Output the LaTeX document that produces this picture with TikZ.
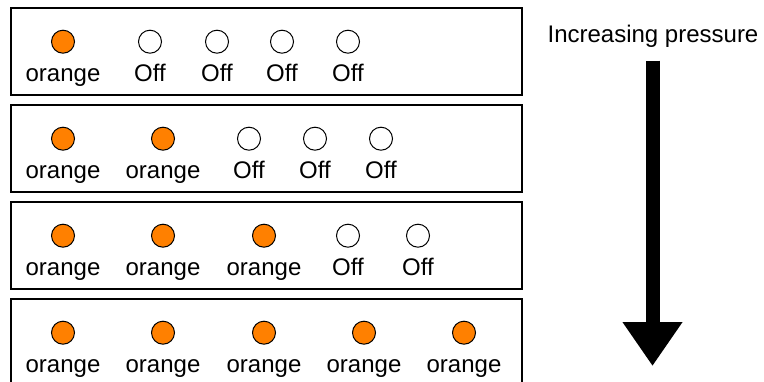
\documentclass[tikz,border=0pt]{standalone}
\usepackage{fontspec}
\setmainfont{Liberation Sans}
\usetikzlibrary{arrows.meta}
\definecolor{lampc}{RGB}{255,128,0}
\definecolor{inkc}{RGB}{0,0,0}

\begin{document}
\begin{tikzpicture}[x=0.75pt, y=-0.75pt, font=\fontsize{18}{21}\selectfont, line cap=round]
  \tikzset{
    panel/.style={draw=inkc, line width=1.5pt},
    lampon/.style={circle, draw=inkc, fill=lampc, line width=0.75pt, inner sep=0pt, minimum size=17.25pt},
    lampoff/.style={circle, draw=inkc, fill=white, line width=0.75pt, inner sep=0pt, minimum size=17.25pt},
    lbl/.style={anchor=base, inner sep=0pt, text=inkc}
  }
  \useasboundingbox (0,0) rectangle (764,382);

  % four panels, one per pressure step (the last runs off the bottom edge)
  \foreach \r in {1,...,4}{
    \pgfmathsetmacro{\yt}{7.5+97*(\r-1)}
    \draw[panel] (11,\yt) rectangle (522,\yt+87);
  }

  % row 1: one lamp lit
  \foreach \x/\s/\t [count=\i] in {63/on/orange,150/off/Off,217/off/Off,282/off/Off,348/off/Off}{
    \node[lamp\s] (lamp-1-\i) at (\x,41.7) {};
    \node[lbl] (lbl-1-\i) at (\x,81) {\t};
  }
  % row 2: two lamps lit
  \foreach \x/\s/\t [count=\i] in {63/on/orange,163/on/orange,249/off/Off,315/off/Off,381/off/Off}{
    \node[lamp\s] (lamp-2-\i) at (\x,138.7) {};
    \node[lbl] (lbl-2-\i) at (\x,178) {\t};
  }
  % row 3: three lamps lit
  \foreach \x/\s/\t [count=\i] in {63/on/orange,163/on/orange,264/on/orange,348/off/Off,418/off/Off}{
    \node[lamp\s] (lamp-3-\i) at (\x,235.7) {};
    \node[lbl] (lbl-3-\i) at (\x,275) {\t};
  }
  % row 4: all lamps lit
  \foreach \x/\s/\t [count=\i] in {63/on/orange,163/on/orange,264/on/orange,364/on/orange,464/on/orange}{
    \node[lamp\s] (lamp-4-\i) at (\x,332.7) {};
    \node[lbl] (lbl-4-\i) at (\x,372) {\t};
  }

  % pressure direction
  \node[lbl] (title) at (653,42) {Increasing pressure};
  \coordinate (shaft) at (652.5,60.5);
  \coordinate (tip) at (652.5,366);
  \draw[inkc, line width=10.5pt, line cap=butt, -{Triangle[length=33pt, width=42.75pt]}] (shaft) -- (tip);

\end{tikzpicture}
\end{document}
